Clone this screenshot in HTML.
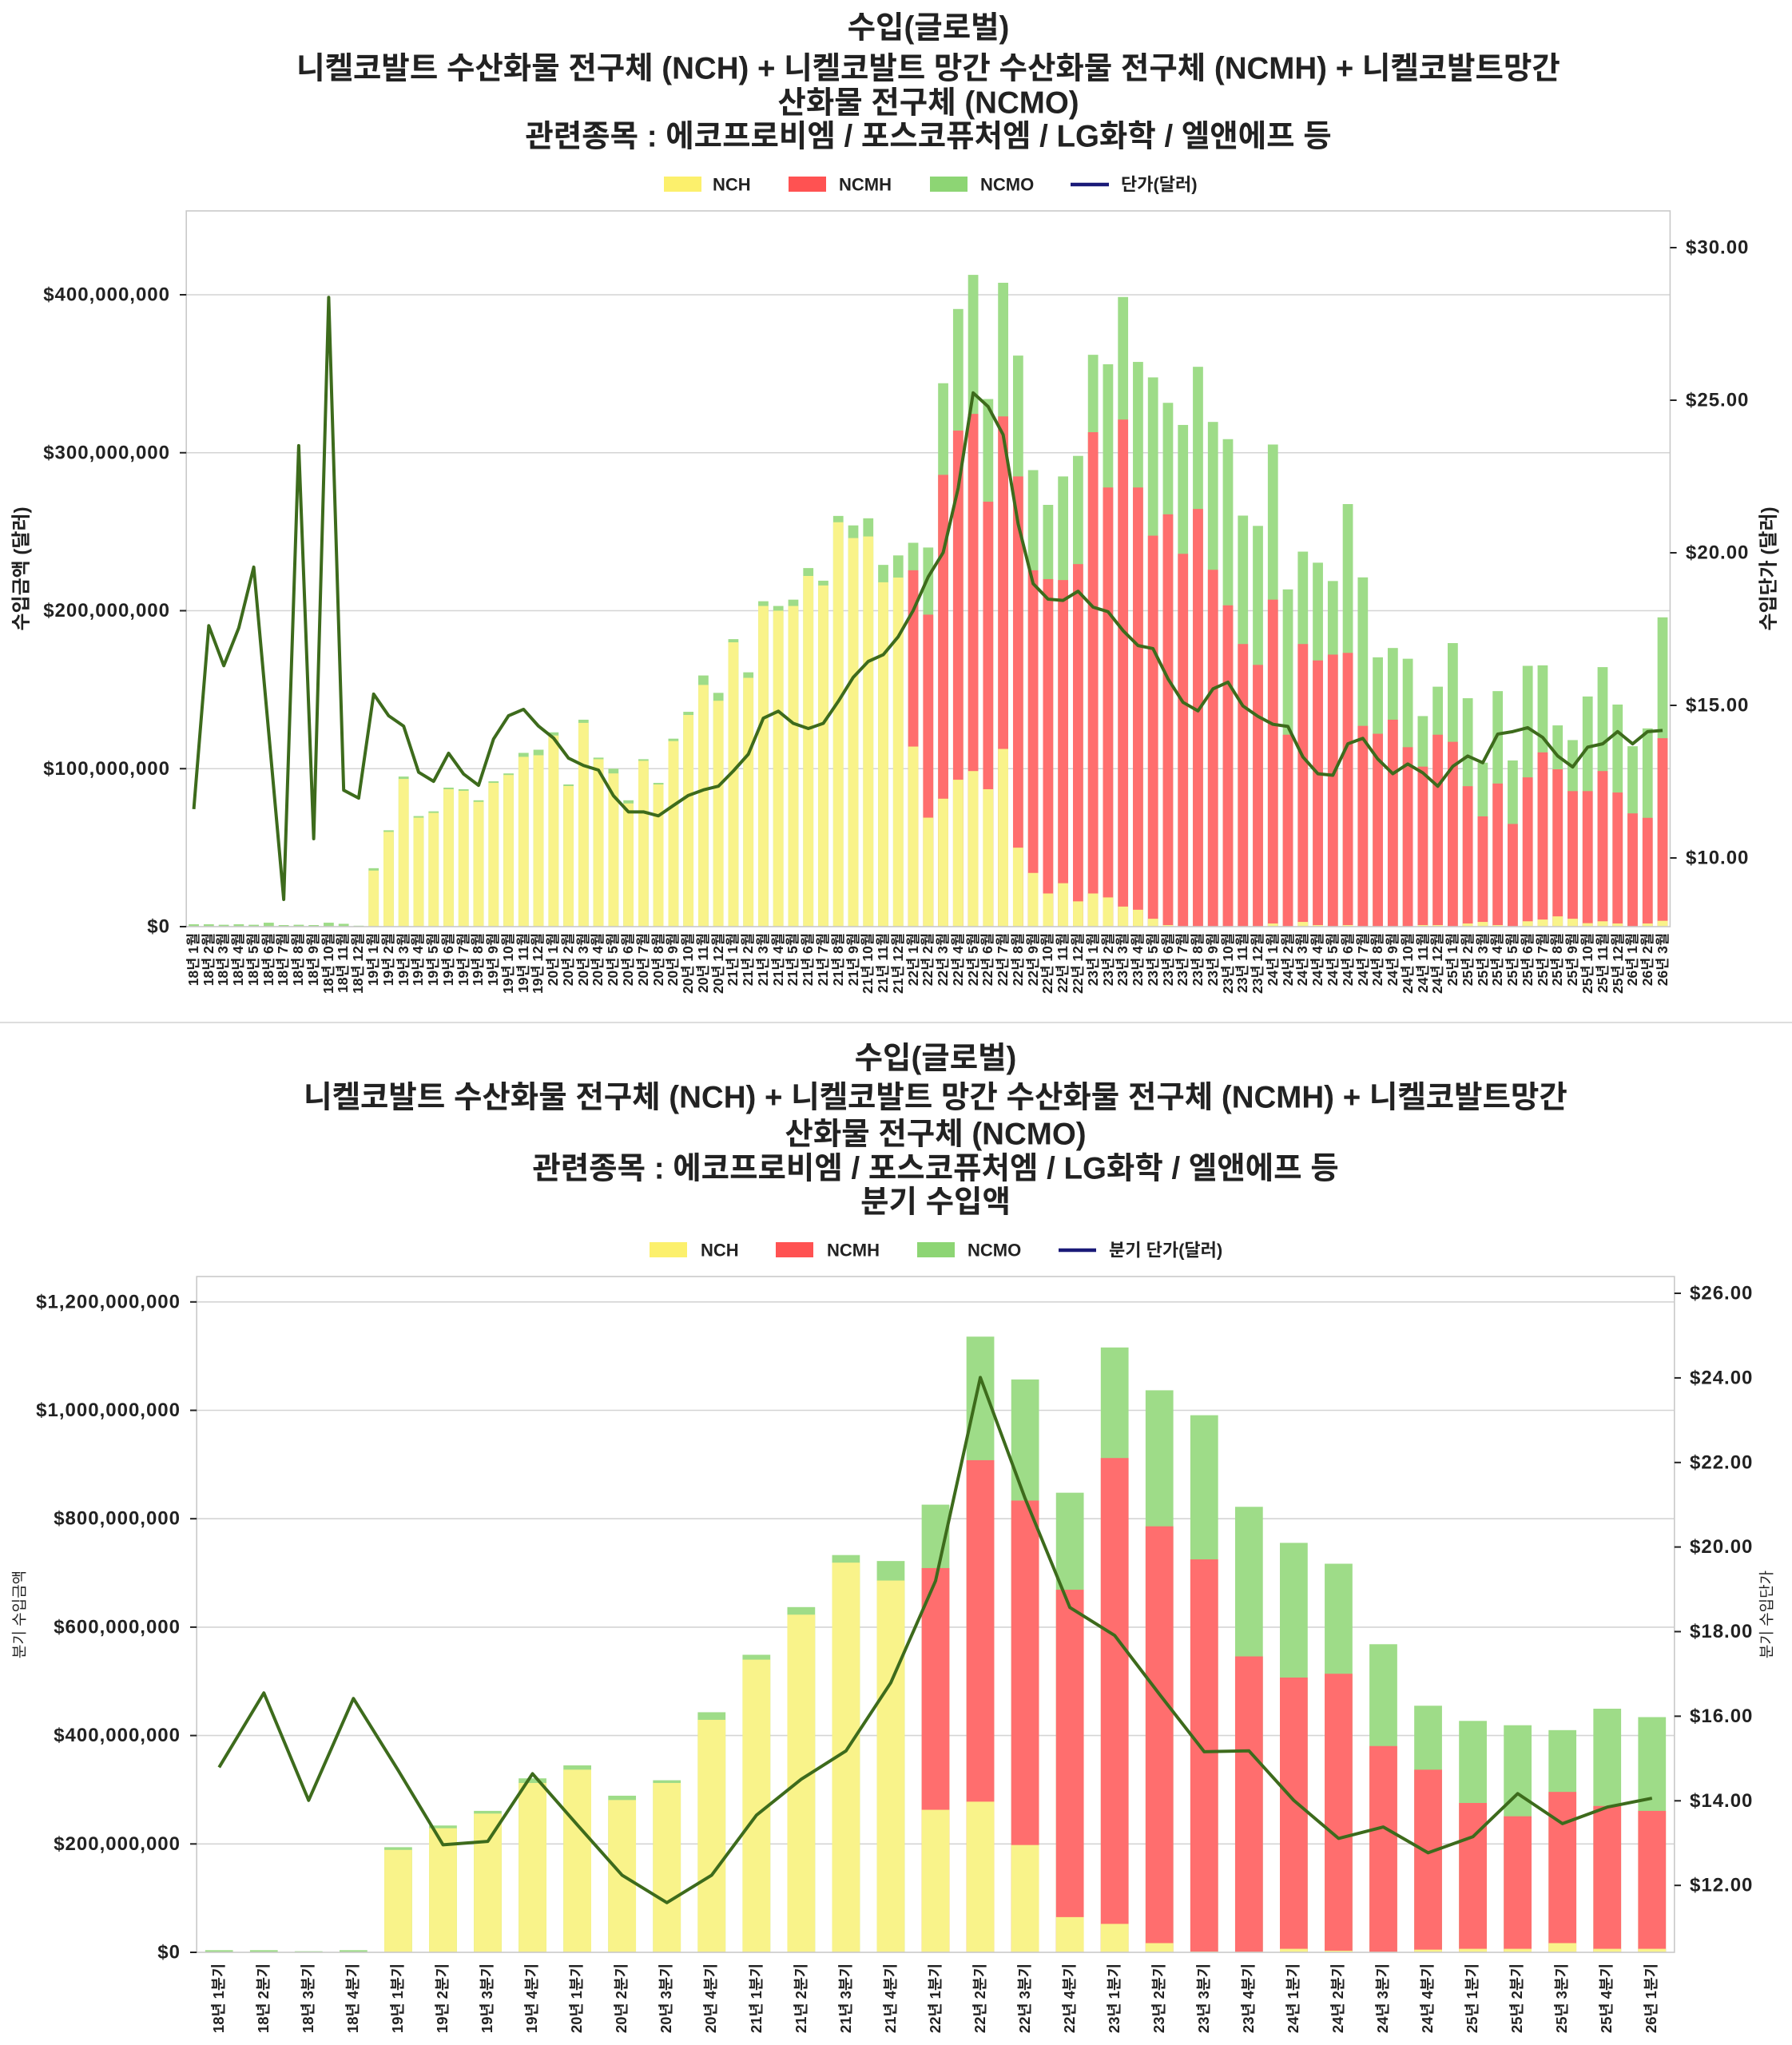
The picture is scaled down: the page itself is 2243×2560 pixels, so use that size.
<!DOCTYPE html>
<html lang="ko">
<head>
<meta charset="utf-8">
<style>
html,body{margin:0;padding:0;background:#fff;}
body{width:2243px;height:2560px;position:relative;overflow:hidden;font-family:"Liberation Sans","Noto Sans CJK KR",sans-serif;}
svg.main{position:absolute;left:0;top:0;}
.xl{position:absolute;display:flex;align-items:flex-start;}
.xl>div{flex:1 1 0;min-width:0;display:flex;justify-content:center;}
.xl span{writing-mode:vertical-rl;text-orientation:sideways;transform:rotate(180deg);font-weight:bold;font-size:17.5px;line-height:1;white-space:nowrap;color:#222;font-family:"Liberation Sans","Noto Sans CJK KR",sans-serif;}
.xl.q span{font-size:18.5px;}
.tt{font-size:38.5px;font-weight:bold;fill:#222;}
.tk{font-size:24px;font-weight:bold;fill:#222;letter-spacing:1px;}
.lg{font-size:22px;font-weight:bold;fill:#222;}
.yl{font-size:24px;font-weight:bold;fill:#222;}
.yl2{font-size:19px;fill:#222;}
</style>
</head>
<body>
<svg class="main" width="2243" height="2560" viewBox="0 0 2243 2560" xmlns="http://www.w3.org/2000/svg" font-family="Liberation Sans, Noto Sans CJK KR, sans-serif">
<rect x="0" y="0" width="2243" height="2560" fill="#fff"/>

<!-- ================= TOP CHART ================= -->
<g text-anchor="middle" dominant-baseline="central">
<text class="tt" x="1162" y="35">수입(글로벌)</text>
<text class="tt" x="1162" y="86">니켈코발트 수산화물 전구체 (NCH) + 니켈코발트 망간 수산화물 전구체 (NCMH) + 니켈코발트망간</text>
<text class="tt" x="1162" y="129">산화물 전구체 (NCMO)</text>
<text class="tt" x="1162" y="171">관련종목 : 에코프로비엠 / 포스코퓨처엠 / LG화학 / 엘앤에프 등</text>
</g>

<!-- legend top -->
<rect x="831" y="221" width="47" height="19" fill="#fcf06c"/>
<text class="lg" x="892" y="231" dominant-baseline="central">NCH</text>
<rect x="987" y="221" width="47" height="19" fill="#ff5252"/>
<text class="lg" x="1050" y="231" dominant-baseline="central">NCMH</text>
<rect x="1164" y="221" width="47" height="19" fill="#8dd574"/>
<text class="lg" x="1227" y="231" dominant-baseline="central">NCMO</text>
<line x1="1340" y1="231" x2="1388" y2="231" stroke="#1a1a78" stroke-width="4.5"/>
<text class="lg" x="1403" y="231" dominant-baseline="central">단가(달러)</text>

<!-- gridlines top -->
<g stroke="#d4d4d4" stroke-width="1.6">
<line x1="233.2" x2="2090.4" y1="962.25" y2="962.25"/>
<line x1="233.2" x2="2090.4" y1="764.5" y2="764.5"/>
<line x1="233.2" x2="2090.4" y1="566.75" y2="566.75"/>
<line x1="233.2" x2="2090.4" y1="369" y2="369"/>
</g>

<!-- bars top -->
<svg x="233.2" y="264" width="1857.2" height="896" viewBox="-0.5 -453.1 99 453.1" preserveAspectRatio="none">
<g transform="scale(1,-1)">
<g fill="#9edc88">
<rect x="-0.34" width="0.68" height="1.5"/><rect x="0.66" width="0.68" height="1.5"/><rect x="1.66" width="0.68" height="1.2"/><rect x="2.66" width="0.68" height="1.5"/><rect x="3.66" width="0.68" height="1.2"/><rect x="4.66" width="0.68" height="2.5"/><rect x="5.66" width="0.68" height="1.0"/><rect x="6.66" width="0.68" height="1.2"/><rect x="7.66" width="0.68" height="1.0"/><rect x="8.66" width="0.68" height="2.5"/><rect x="9.66" width="0.68" height="1.8"/><rect x="10.66" width="0.68" height="0.6"/>
<rect x="11.66" width="0.68" height="37"/><rect x="12.66" width="0.68" height="61"/><rect x="13.66" width="0.68" height="95"/><rect x="14.66" width="0.68" height="70"/><rect x="15.66" width="0.68" height="73"/><rect x="16.66" width="0.68" height="88"/><rect x="17.66" width="0.68" height="87"/><rect x="18.66" width="0.68" height="80"/><rect x="19.66" width="0.68" height="92"/><rect x="20.66" width="0.68" height="97"/>
<rect x="21.66" width="0.68" height="110"/><rect x="22.66" width="0.68" height="112"/><rect x="23.66" width="0.68" height="123"/><rect x="24.66" width="0.68" height="90"/><rect x="25.66" width="0.68" height="131"/><rect x="26.66" width="0.68" height="107"/><rect x="27.66" width="0.68" height="100"/><rect x="28.66" width="0.68" height="80"/><rect x="29.66" width="0.68" height="106"/><rect x="30.66" width="0.68" height="91"/>
<rect x="31.66" width="0.68" height="119"/><rect x="32.66" width="0.68" height="136"/><rect x="33.66" width="0.68" height="159"/><rect x="34.66" width="0.68" height="148"/><rect x="35.66" width="0.68" height="182"/><rect x="36.66" width="0.68" height="161"/><rect x="37.66" width="0.68" height="206"/><rect x="38.66" width="0.68" height="203"/><rect x="39.66" width="0.68" height="207"/><rect x="40.66" width="0.68" height="227"/>
<rect x="41.66" width="0.68" height="219"/><rect x="42.66" width="0.68" height="260"/><rect x="43.66" width="0.68" height="254"/><rect x="44.66" width="0.68" height="258.5"/><rect x="45.66" width="0.68" height="229"/><rect x="46.66" width="0.68" height="235"/><rect x="47.66" width="0.68" height="243"/><rect x="48.66" width="0.68" height="240"/><rect x="49.66" width="0.68" height="344"/><rect x="50.66" width="0.68" height="391"/>
<rect x="51.66" width="0.68" height="412.6"/><rect x="52.66" width="0.68" height="334"/><rect x="53.66" width="0.68" height="407.6"/><rect x="54.66" width="0.68" height="361.5"/><rect x="55.66" width="0.68" height="289"/><rect x="56.66" width="0.68" height="267"/><rect x="57.66" width="0.68" height="285"/><rect x="58.66" width="0.68" height="298"/><rect x="59.66" width="0.68" height="362"/><rect x="60.66" width="0.68" height="356"/>
<rect x="61.66" width="0.68" height="398.6"/><rect x="62.66" width="0.68" height="357.5"/><rect x="63.66" width="0.68" height="347.7"/><rect x="64.66" width="0.68" height="331.6"/><rect x="65.66" width="0.68" height="317.6"/><rect x="66.66" width="0.68" height="354.4"/><rect x="67.66" width="0.68" height="319.5"/><rect x="68.66" width="0.68" height="308.6"/><rect x="69.66" width="0.68" height="260.2"/><rect x="70.66" width="0.68" height="253.7"/>
<rect x="71.66" width="0.68" height="305.2"/><rect x="72.66" width="0.68" height="213.5"/><rect x="73.66" width="0.68" height="237.4"/><rect x="74.66" width="0.68" height="230.4"/><rect x="75.66" width="0.68" height="218.8"/><rect x="76.66" width="0.68" height="267.5"/><rect x="77.66" width="0.68" height="221.1"/><rect x="78.66" width="0.68" height="170.5"/><rect x="79.66" width="0.68" height="176.4"/><rect x="80.66" width="0.68" height="169.6"/>
<rect x="81.66" width="0.68" height="133.3"/><rect x="82.66" width="0.68" height="151.9"/><rect x="83.66" width="0.68" height="179.5"/><rect x="84.66" width="0.68" height="144.6"/><rect x="85.66" width="0.68" height="103.8"/><rect x="86.66" width="0.68" height="149.1"/><rect x="87.66" width="0.68" height="105.2"/><rect x="88.66" width="0.68" height="165.1"/><rect x="89.66" width="0.68" height="165.4"/><rect x="90.66" width="0.68" height="127.4"/>
<rect x="91.66" width="0.68" height="118.1"/><rect x="92.66" width="0.68" height="145.7"/><rect x="93.66" width="0.68" height="164.3"/><rect x="94.66" width="0.68" height="140.6"/><rect x="95.66" width="0.68" height="114.2"/><rect x="96.66" width="0.68" height="125.5"/><rect x="97.66" width="0.68" height="195.8"/>
</g>
<g fill="#ff6e6e">
<rect x="47.66" width="0.68" height="225.6"/><rect x="48.66" width="0.68" height="197.5"/><rect x="49.66" width="0.68" height="286"/><rect x="50.66" width="0.68" height="314"/><rect x="51.66" width="0.68" height="324.6"/><rect x="52.66" width="0.68" height="269"/><rect x="53.66" width="0.68" height="323"/><rect x="54.66" width="0.68" height="285"/><rect x="55.66" width="0.68" height="225.6"/><rect x="56.66" width="0.68" height="220"/>
<rect x="57.66" width="0.68" height="219.4"/><rect x="58.66" width="0.68" height="229.5"/><rect x="59.66" width="0.68" height="313"/><rect x="60.66" width="0.68" height="278"/><rect x="61.66" width="0.68" height="321"/><rect x="62.66" width="0.68" height="278"/><rect x="63.66" width="0.68" height="247.5"/><rect x="64.66" width="0.68" height="261"/><rect x="65.66" width="0.68" height="236"/><rect x="66.66" width="0.68" height="264.4"/>
<rect x="67.66" width="0.68" height="225.9"/><rect x="68.66" width="0.68" height="203.4"/><rect x="69.66" width="0.68" height="178.9"/><rect x="70.66" width="0.68" height="165.7"/><rect x="71.66" width="0.68" height="207"/><rect x="72.66" width="0.68" height="121.5"/><rect x="73.66" width="0.68" height="178.9"/><rect x="74.66" width="0.68" height="168.5"/><rect x="75.66" width="0.68" height="172.2"/><rect x="76.66" width="0.68" height="173.3"/>
<rect x="77.66" width="0.68" height="127.1"/><rect x="78.66" width="0.68" height="122.1"/><rect x="79.66" width="0.68" height="131"/><rect x="80.66" width="0.68" height="113.6"/><rect x="81.66" width="0.68" height="101.3"/><rect x="82.66" width="0.68" height="121.5"/><rect x="83.66" width="0.68" height="117"/><rect x="84.66" width="0.68" height="88.9"/><rect x="85.66" width="0.68" height="69.8"/><rect x="86.66" width="0.68" height="90.6"/>
<rect x="87.66" width="0.68" height="65"/><rect x="88.66" width="0.68" height="94.5"/><rect x="89.66" width="0.68" height="110.3"/><rect x="90.66" width="0.68" height="99.6"/><rect x="91.66" width="0.68" height="85.8"/><rect x="92.66" width="0.68" height="85.8"/><rect x="93.66" width="0.68" height="98.5"/><rect x="94.66" width="0.68" height="84.9"/><rect x="95.66" width="0.68" height="71.7"/><rect x="96.66" width="0.68" height="68.9"/><rect x="97.66" width="0.68" height="119.3"/>
</g>
<g fill="#f9f38a">
<rect x="11.66" width="0.68" height="35.5"/><rect x="12.66" width="0.68" height="60"/><rect x="13.66" width="0.68" height="93.5"/><rect x="14.66" width="0.68" height="69"/><rect x="15.66" width="0.68" height="72"/><rect x="16.66" width="0.68" height="87"/><rect x="17.66" width="0.68" height="86"/><rect x="18.66" width="0.68" height="79"/><rect x="19.66" width="0.68" height="91"/><rect x="20.66" width="0.68" height="96"/>
<rect x="21.66" width="0.68" height="107.5"/><rect x="22.66" width="0.68" height="108.5"/><rect x="23.66" width="0.68" height="121"/><rect x="24.66" width="0.68" height="89"/><rect x="25.66" width="0.68" height="129"/><rect x="26.66" width="0.68" height="106"/><rect x="27.66" width="0.68" height="97"/><rect x="28.66" width="0.68" height="78"/><rect x="29.66" width="0.68" height="105"/><rect x="30.66" width="0.68" height="90"/>
<rect x="31.66" width="0.68" height="117.5"/><rect x="32.66" width="0.68" height="134"/><rect x="33.66" width="0.68" height="153"/><rect x="34.66" width="0.68" height="143"/><rect x="35.66" width="0.68" height="180"/><rect x="36.66" width="0.68" height="157.5"/><rect x="37.66" width="0.68" height="203"/><rect x="38.66" width="0.68" height="200"/><rect x="39.66" width="0.68" height="203"/><rect x="40.66" width="0.68" height="222"/>
<rect x="41.66" width="0.68" height="216"/><rect x="42.66" width="0.68" height="256"/><rect x="43.66" width="0.68" height="246"/><rect x="44.66" width="0.68" height="247"/><rect x="45.66" width="0.68" height="218"/><rect x="46.66" width="0.68" height="221"/><rect x="47.66" width="0.68" height="114"/><rect x="48.66" width="0.68" height="69"/><rect x="49.66" width="0.68" height="81"/><rect x="50.66" width="0.68" height="93"/>
<rect x="51.66" width="0.68" height="98.5"/><rect x="52.66" width="0.68" height="87"/><rect x="53.66" width="0.68" height="112.5"/><rect x="54.66" width="0.68" height="50"/><rect x="55.66" width="0.68" height="34"/><rect x="56.66" width="0.68" height="21"/><rect x="57.66" width="0.68" height="27.5"/><rect x="58.66" width="0.68" height="16"/><rect x="59.66" width="0.68" height="21"/><rect x="60.66" width="0.68" height="18.5"/>
<rect x="61.66" width="0.68" height="12.7"/><rect x="62.66" width="0.68" height="10.7"/><rect x="63.66" width="0.68" height="5"/><rect x="64.66" width="0.68" height="1"/>
<rect x="71.66" width="0.68" height="2"/><rect x="73.66" width="0.68" height="3"/><rect x="74.66" width="0.68" height="1"/><rect x="76.66" width="0.68" height="1"/><rect x="81.66" width="0.68" height="1"/><rect x="82.66" width="0.68" height="1"/><rect x="84.66" width="0.68" height="2"/><rect x="85.66" width="0.68" height="3"/><rect x="86.66" width="0.68" height="1"/>
<rect x="88.66" width="0.68" height="3.4"/><rect x="89.66" width="0.68" height="4.5"/><rect x="90.66" width="0.68" height="6.5"/><rect x="91.66" width="0.68" height="5"/><rect x="92.66" width="0.68" height="2.2"/><rect x="93.66" width="0.68" height="3.4"/><rect x="94.66" width="0.68" height="2"/><rect x="96.66" width="0.68" height="2"/><rect x="97.66" width="0.68" height="3.7"/>
</g>
</g>
</svg>

<!-- price line top -->
<svg x="233.2" y="264" width="1857.2" height="896" viewBox="-0.5 -31.204 99 23.455" preserveAspectRatio="none" overflow="visible">
<polyline transform="scale(1,-1)" fill="none" stroke="#3d6b1c" stroke-width="4" stroke-linejoin="round" vector-effect="non-scaling-stroke"
points="0,11.60 1,17.61 2,16.30 3,17.54 4,19.53 5,14.10 6,8.64 7,23.51 8,10.63 9,28.37 10,12.22 11,11.96 12,15.37 13,14.66 14,14.32 15,12.81 16,12.51 17,13.43 18,12.75 19,12.38 20,13.90 21,14.66 22,14.87 23,14.32 24,13.93 25,13.27 26,13.03 27,12.88 28,12.04 29,11.51 30,11.51 31,11.38 32,11.72 33,12.05 34,12.23 35,12.35 36,12.85 37,13.40 38,14.58 39,14.81 40,14.41 41,14.24 42,14.41 43,15.13 44,15.92 45,16.44 46,16.66 47,17.25 48,18.11 49,19.21 50,20.01 51,22.12 52,25.24 53,24.79 54,23.87 55,20.95 56,18.99 57,18.48 58,18.44 59,18.74 60,18.22 61,18.07 62,17.45 63,16.96 64,16.86 65,15.87 66,15.10 67,14.82 68,15.54 69,15.76 70,14.98 71,14.64 72,14.38 73,14.31 74,13.31 75,12.76 76,12.71 77,13.74 78,13.92 79,13.24 80,12.76 81,13.08 82,12.79 83,12.35 84,13.00 85,13.34 86,13.12 87,14.06 88,14.14 89,14.27 90,13.95 91,13.34 92,12.98 93,13.63 94,13.74 95,14.14 96,13.74 97,14.14 98,14.18"/>
</svg>

<!-- spines top -->
<rect x="233.2" y="264" width="1857.2" height="896" fill="none" stroke="#c9c9c9" stroke-width="1.6"/>

<!-- ticks top -->
<g stroke="#222" stroke-width="2">
<line x1="225" x2="233.2" y1="1160" y2="1160"/><line x1="225" x2="233.2" y1="962.25" y2="962.25"/><line x1="225" x2="233.2" y1="764.5" y2="764.5"/><line x1="225" x2="233.2" y1="566.75" y2="566.75"/><line x1="225" x2="233.2" y1="369" y2="369"/>
<line x1="2090.4" x2="2098.6" y1="310" y2="310"/><line x1="2090.4" x2="2098.6" y1="501" y2="501"/><line x1="2090.4" x2="2098.6" y1="692" y2="692"/><line x1="2090.4" x2="2098.6" y1="883" y2="883"/><line x1="2090.4" x2="2098.6" y1="1074" y2="1074"/>
</g>
<g text-anchor="end" dominant-baseline="central">
<text class="tk" x="213" y="1160">$0</text>
<text class="tk" x="213" y="962.25">$100,000,000</text>
<text class="tk" x="213" y="764.5">$200,000,000</text>
<text class="tk" x="213" y="566.75">$300,000,000</text>
<text class="tk" x="213" y="369">$400,000,000</text>
</g>
<g dominant-baseline="central">
<text class="tk" x="2110" y="310">$30.00</text>
<text class="tk" x="2110" y="501">$25.00</text>
<text class="tk" x="2110" y="692">$20.00</text>
<text class="tk" x="2110" y="883">$15.00</text>
<text class="tk" x="2110" y="1074">$10.00</text>
</g>
<text class="yl" text-anchor="middle" dominant-baseline="central" transform="translate(27,712) rotate(-90)">수입금액 (달러)</text>
<text class="yl" text-anchor="middle" dominant-baseline="central" transform="translate(2214,712) rotate(-90)">수입단가 (달러)</text>

<!-- separator -->
<line x1="0" x2="2243" y1="1280" y2="1280" stroke="#dddddd" stroke-width="2"/>

<!-- ================= BOTTOM CHART ================= -->
<g text-anchor="middle" dominant-baseline="central">
<text class="tt" x="1171" y="1325">수입(글로벌)</text>
<text class="tt" x="1171" y="1374">니켈코발트 수산화물 전구체 (NCH) + 니켈코발트 망간 수산화물 전구체 (NCMH) + 니켈코발트망간</text>
<text class="tt" x="1171" y="1420">산화물 전구체 (NCMO)</text>
<text class="tt" x="1171" y="1463">관련종목 : 에코프로비엠 / 포스코퓨처엠 / LG화학 / 엘앤에프 등</text>
<text class="tt" x="1171" y="1505">분기 수입액</text>
</g>

<!-- legend bottom -->
<rect x="813" y="1555" width="47" height="19" fill="#fcf06c"/>
<text class="lg" x="877" y="1565" dominant-baseline="central">NCH</text>
<rect x="971" y="1555" width="47" height="19" fill="#ff5252"/>
<text class="lg" x="1035" y="1565" dominant-baseline="central">NCMH</text>
<rect x="1148" y="1555" width="47" height="19" fill="#8dd574"/>
<text class="lg" x="1211" y="1565" dominant-baseline="central">NCMO</text>
<line x1="1325" y1="1565" x2="1372" y2="1565" stroke="#1a1a78" stroke-width="4.5"/>
<text class="lg" x="1388" y="1565" dominant-baseline="central">분기 단가(달러)</text>

<!-- gridlines bottom -->
<g stroke="#d4d4d4" stroke-width="1.6">
<line x1="246.2" x2="2095.8" y1="2308.3" y2="2308.3"/>
<line x1="246.2" x2="2095.8" y1="2172.6" y2="2172.6"/>
<line x1="246.2" x2="2095.8" y1="2036.9" y2="2036.9"/>
<line x1="246.2" x2="2095.8" y1="1901.2" y2="1901.2"/>
<line x1="246.2" x2="2095.8" y1="1765.5" y2="1765.5"/>
<line x1="246.2" x2="2095.8" y1="1629.8" y2="1629.8"/>
</g>

<!-- bars bottom -->
<svg x="246.2" y="1598" width="1849.6" height="846" viewBox="-0.5 -1246.9 33 1246.9" preserveAspectRatio="none">
<g transform="scale(1,-1)">
<g fill="#9edc88">
<rect x="-0.31" width="0.62" height="4"/><rect x="0.69" width="0.62" height="4"/><rect x="1.69" width="0.62" height="2"/><rect x="2.69" width="0.62" height="4"/><rect x="3.69" width="0.62" height="194"/><rect x="4.69" width="0.62" height="234"/><rect x="5.69" width="0.62" height="261"/><rect x="6.69" width="0.62" height="321"/><rect x="7.69" width="0.62" height="345"/><rect x="8.69" width="0.62" height="289"/><rect x="9.69" width="0.62" height="317.5"/>
<rect x="10.69" width="0.62" height="443"/><rect x="11.69" width="0.62" height="549"/><rect x="12.69" width="0.62" height="637"/><rect x="13.69" width="0.62" height="733"/><rect x="14.69" width="0.62" height="722"/><rect x="15.69" width="0.62" height="826"/><rect x="16.69" width="0.62" height="1136"/><rect x="17.69" width="0.62" height="1057"/><rect x="18.69" width="0.62" height="848"/><rect x="19.69" width="0.62" height="1116"/><rect x="20.69" width="0.62" height="1037"/>
<rect x="21.69" width="0.62" height="991"/><rect x="22.69" width="0.62" height="822"/><rect x="23.69" width="0.62" height="755.5"/><rect x="24.69" width="0.62" height="717"/><rect x="25.69" width="0.62" height="568.5"/><rect x="26.69" width="0.62" height="455"/><rect x="27.69" width="0.62" height="427"/><rect x="28.69" width="0.62" height="419"/><rect x="29.69" width="0.62" height="410"/><rect x="30.69" width="0.62" height="449.5"/><rect x="31.69" width="0.62" height="434"/>
</g>
<g fill="#ff6e6e">
<rect x="15.69" width="0.62" height="709"/><rect x="16.69" width="0.62" height="908"/><rect x="17.69" width="0.62" height="833.5"/><rect x="18.69" width="0.62" height="669"/><rect x="19.69" width="0.62" height="912"/><rect x="20.69" width="0.62" height="786"/><rect x="21.69" width="0.62" height="725"/><rect x="22.69" width="0.62" height="546"/><rect x="23.69" width="0.62" height="507"/>
<rect x="24.69" width="0.62" height="514"/><rect x="25.69" width="0.62" height="380.6"/><rect x="26.69" width="0.62" height="337"/><rect x="27.69" width="0.62" height="275.6"/><rect x="28.69" width="0.62" height="251"/><rect x="29.69" width="0.62" height="296"/><rect x="30.69" width="0.62" height="270"/><rect x="31.69" width="0.62" height="261"/>
</g>
<g fill="#f9f38a">
<rect x="3.69" width="0.62" height="189"/><rect x="4.69" width="0.62" height="229"/><rect x="5.69" width="0.62" height="256"/><rect x="6.69" width="0.62" height="312.5"/><rect x="7.69" width="0.62" height="337"/><rect x="8.69" width="0.62" height="281"/><rect x="9.69" width="0.62" height="312.5"/><rect x="10.69" width="0.62" height="429"/><rect x="11.69" width="0.62" height="540"/><rect x="12.69" width="0.62" height="623"/><rect x="13.69" width="0.62" height="719"/><rect x="14.69" width="0.62" height="686"/>
<rect x="15.69" width="0.62" height="263"/><rect x="16.69" width="0.62" height="278"/><rect x="17.69" width="0.62" height="198"/><rect x="18.69" width="0.62" height="65"/><rect x="19.69" width="0.62" height="52.5"/><rect x="20.69" width="0.62" height="17"/><rect x="21.69" width="0.62" height="1.5"/><rect x="22.69" width="0.62" height="1"/><rect x="23.69" width="0.62" height="6.5"/>
<rect x="24.69" width="0.62" height="3"/><rect x="25.69" width="0.62" height="1"/><rect x="26.69" width="0.62" height="5"/><rect x="27.69" width="0.62" height="6.5"/><rect x="28.69" width="0.62" height="6.5"/><rect x="29.69" width="0.62" height="17"/><rect x="30.69" width="0.62" height="6.5"/><rect x="31.69" width="0.62" height="6.5"/>
</g>
</g>
</svg>

<!-- price line bottom -->
<svg x="246.2" y="1598" width="1849.6" height="846" viewBox="-0.5 -26.397 33 15.981" preserveAspectRatio="none" overflow="visible">
<polyline transform="scale(1,-1)" fill="none" stroke="#3d6b1c" stroke-width="4" stroke-linejoin="round" vector-effect="non-scaling-stroke"
points="0,14.79 1,16.55 2,14.01 3,16.42 4,14.72 5,12.96 6,13.04 7,14.64 8,13.43 9,12.24 10,11.59 11,12.24 12,13.66 13,14.51 14,15.18 15,16.79 16,19.20 17,24.01 18,21.15 19,18.57 20,17.91 21,16.52 22,15.16 23,15.18 24,14.01 25,13.11 26,13.38 27,12.77 28,13.15 29,14.17 30,13.46 31,13.85 32,14.06"/>
</svg>

<!-- spines bottom -->
<rect x="246.2" y="1598" width="1849.6" height="846" fill="none" stroke="#c9c9c9" stroke-width="1.6"/>

<!-- ticks bottom -->
<g stroke="#222" stroke-width="2">
<line x1="238" x2="246.2" y1="2444" y2="2444"/><line x1="238" x2="246.2" y1="2308.3" y2="2308.3"/><line x1="238" x2="246.2" y1="2172.6" y2="2172.6"/><line x1="238" x2="246.2" y1="2036.9" y2="2036.9"/><line x1="238" x2="246.2" y1="1901.2" y2="1901.2"/><line x1="238" x2="246.2" y1="1765.5" y2="1765.5"/><line x1="238" x2="246.2" y1="1629.8" y2="1629.8"/>
<line x1="2095.8" x2="2104" y1="1619" y2="1619"/><line x1="2095.8" x2="2104" y1="1724.9" y2="1724.9"/><line x1="2095.8" x2="2104" y1="1830.8" y2="1830.8"/><line x1="2095.8" x2="2104" y1="1936.6" y2="1936.6"/><line x1="2095.8" x2="2104" y1="2042.5" y2="2042.5"/><line x1="2095.8" x2="2104" y1="2148.4" y2="2148.4"/><line x1="2095.8" x2="2104" y1="2254.3" y2="2254.3"/><line x1="2095.8" x2="2104" y1="2360.2" y2="2360.2"/>
</g>
<g text-anchor="end" dominant-baseline="central">
<text class="tk" x="226" y="2444">$0</text>
<text class="tk" x="226" y="2308.3">$200,000,000</text>
<text class="tk" x="226" y="2172.6">$400,000,000</text>
<text class="tk" x="226" y="2036.9">$600,000,000</text>
<text class="tk" x="226" y="1901.2">$800,000,000</text>
<text class="tk" x="226" y="1765.5">$1,000,000,000</text>
<text class="tk" x="226" y="1629.8">$1,200,000,000</text>
</g>
<g dominant-baseline="central">
<text class="tk" x="2115" y="1619">$26.00</text>
<text class="tk" x="2115" y="1724.9">$24.00</text>
<text class="tk" x="2115" y="1830.8">$22.00</text>
<text class="tk" x="2115" y="1936.6">$20.00</text>
<text class="tk" x="2115" y="2042.5">$18.00</text>
<text class="tk" x="2115" y="2148.4">$16.00</text>
<text class="tk" x="2115" y="2254.3">$14.00</text>
<text class="tk" x="2115" y="2360.2">$12.00</text>
</g>
<text class="yl2" text-anchor="middle" dominant-baseline="central" transform="translate(25,2021) rotate(-90)">분기 수입금액</text>
<text class="yl2" text-anchor="middle" dominant-baseline="central" transform="translate(2212,2021) rotate(-90)">분기 수입단가</text>
</svg>

<!-- x labels top (monthly) -->
<div class="xl" style="left:233.2px;top:1168px;width:1857.2px;">
<div><span>18년 1월</span></div><div><span>18년 2월</span></div><div><span>18년 3월</span></div><div><span>18년 4월</span></div><div><span>18년 5월</span></div><div><span>18년 6월</span></div><div><span>18년 7월</span></div><div><span>18년 8월</span></div><div><span>18년 9월</span></div><div><span>18년 10월</span></div><div><span>18년 11월</span></div><div><span>18년 12월</span></div>
<div><span>19년 1월</span></div><div><span>19년 2월</span></div><div><span>19년 3월</span></div><div><span>19년 4월</span></div><div><span>19년 5월</span></div><div><span>19년 6월</span></div><div><span>19년 7월</span></div><div><span>19년 8월</span></div><div><span>19년 9월</span></div><div><span>19년 10월</span></div><div><span>19년 11월</span></div><div><span>19년 12월</span></div>
<div><span>20년 1월</span></div><div><span>20년 2월</span></div><div><span>20년 3월</span></div><div><span>20년 4월</span></div><div><span>20년 5월</span></div><div><span>20년 6월</span></div><div><span>20년 7월</span></div><div><span>20년 8월</span></div><div><span>20년 9월</span></div><div><span>20년 10월</span></div><div><span>20년 11월</span></div><div><span>20년 12월</span></div>
<div><span>21년 1월</span></div><div><span>21년 2월</span></div><div><span>21년 3월</span></div><div><span>21년 4월</span></div><div><span>21년 5월</span></div><div><span>21년 6월</span></div><div><span>21년 7월</span></div><div><span>21년 8월</span></div><div><span>21년 9월</span></div><div><span>21년 10월</span></div><div><span>21년 11월</span></div><div><span>21년 12월</span></div>
<div><span>22년 1월</span></div><div><span>22년 2월</span></div><div><span>22년 3월</span></div><div><span>22년 4월</span></div><div><span>22년 5월</span></div><div><span>22년 6월</span></div><div><span>22년 7월</span></div><div><span>22년 8월</span></div><div><span>22년 9월</span></div><div><span>22년 10월</span></div><div><span>22년 11월</span></div><div><span>22년 12월</span></div>
<div><span>23년 1월</span></div><div><span>23년 2월</span></div><div><span>23년 3월</span></div><div><span>23년 4월</span></div><div><span>23년 5월</span></div><div><span>23년 6월</span></div><div><span>23년 7월</span></div><div><span>23년 8월</span></div><div><span>23년 9월</span></div><div><span>23년 10월</span></div><div><span>23년 11월</span></div><div><span>23년 12월</span></div>
<div><span>24년 1월</span></div><div><span>24년 2월</span></div><div><span>24년 3월</span></div><div><span>24년 4월</span></div><div><span>24년 5월</span></div><div><span>24년 6월</span></div><div><span>24년 7월</span></div><div><span>24년 8월</span></div><div><span>24년 9월</span></div><div><span>24년 10월</span></div><div><span>24년 11월</span></div><div><span>24년 12월</span></div>
<div><span>25년 1월</span></div><div><span>25년 2월</span></div><div><span>25년 3월</span></div><div><span>25년 4월</span></div><div><span>25년 5월</span></div><div><span>25년 6월</span></div><div><span>25년 7월</span></div><div><span>25년 8월</span></div><div><span>25년 9월</span></div><div><span>25년 10월</span></div><div><span>25년 11월</span></div><div><span>25년 12월</span></div>
<div><span>26년 1월</span></div><div><span>26년 2월</span></div><div><span>26년 3월</span></div>
</div>

<!-- x labels bottom (quarterly) -->
<div class="xl q" style="left:246.2px;top:2458px;width:1849.6px;">
<div><span>18년 1분기</span></div><div><span>18년 2분기</span></div><div><span>18년 3분기</span></div><div><span>18년 4분기</span></div>
<div><span>19년 1분기</span></div><div><span>19년 2분기</span></div><div><span>19년 3분기</span></div><div><span>19년 4분기</span></div>
<div><span>20년 1분기</span></div><div><span>20년 2분기</span></div><div><span>20년 3분기</span></div><div><span>20년 4분기</span></div>
<div><span>21년 1분기</span></div><div><span>21년 2분기</span></div><div><span>21년 3분기</span></div><div><span>21년 4분기</span></div>
<div><span>22년 1분기</span></div><div><span>22년 2분기</span></div><div><span>22년 3분기</span></div><div><span>22년 4분기</span></div>
<div><span>23년 1분기</span></div><div><span>23년 2분기</span></div><div><span>23년 3분기</span></div><div><span>23년 4분기</span></div>
<div><span>24년 1분기</span></div><div><span>24년 2분기</span></div><div><span>24년 3분기</span></div><div><span>24년 4분기</span></div>
<div><span>25년 1분기</span></div><div><span>25년 2분기</span></div><div><span>25년 3분기</span></div><div><span>25년 4분기</span></div>
<div><span>26년 1분기</span></div>
</div>
</body>
</html>
